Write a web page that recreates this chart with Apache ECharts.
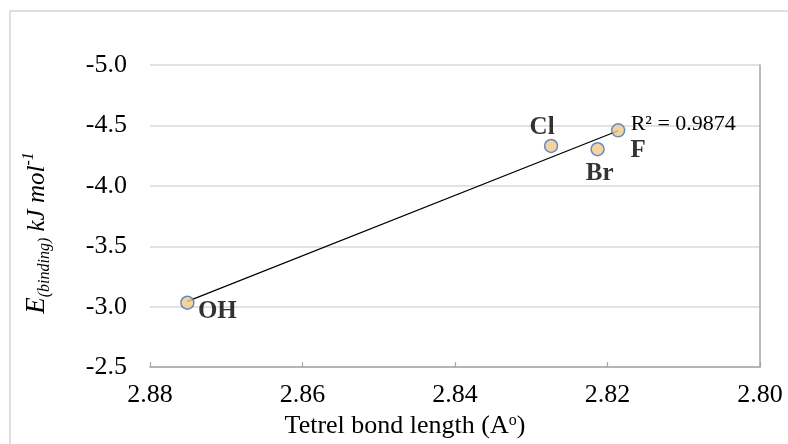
<!DOCTYPE html>
<html>
<head>
<meta charset="utf-8">
<script src="https://cdn.jsdelivr.net/npm/echarts@6/dist/echarts.min.js"></script>
<style>
html,body{margin:0;padding:0;background:#fff;}
#chart{width:788px;height:444px;}
</style>
</head>
<body>
<div id="chart"></div>
<script>
// ---- data ----
const categories = ['OH', 'Cl', 'Br', 'F'];
const bondLength = [2.8751, 2.8274, 2.8213, 2.8186];
const bindingEnergy = [-3.033, -4.330, -4.303, -4.459];
const trendX = [2.8751, 2.8186];
const trendY = [-3.044, -4.456];
const r2Text = 'R\u00B2 = 0.9874';
const xAxisRange = [2.80, 2.88, 0.02];
const yAxisRange = [-5.0, -2.5, 0.5];

// label placement (layout, not data)
const labelOffsets = { OH: [30, 9], Cl: [-9, -18], Br: [2, 24], F: [20, 20] };

const serif = '"Liberation Serif", "Times New Roman", serif';
const axisGray = '#a6a6a6';

const points = categories.map((c, i) => ({
  name: c,
  value: [bondLength[i], bindingEnergy[i]],
  label: { offset: labelOffsets[c] }
}));

const trend = trendX.map((x, i) => {
  const d = { value: [x, trendY[i]] };
  if (i === trendX.length - 1) {
    d.label = { show: true, formatter: r2Text, position: 'right', distance: 12, offset: [0, -7],
      fontFamily: serif, fontSize: 22, color: '#000' };
  }
  return d;
});

const chart = echarts.init(document.getElementById('chart'));
chart.setOption({
  animation: false,
  backgroundColor: '#fff',
  grid: { left: 150, right: 28, top: 65, bottom: 75 },
  graphic: [{
    type: 'rect', silent: true, z: -1,
    shape: { x: 10, y: 11, width: 800, height: 460 },
    style: { fill: 'none', stroke: '#bfbfbf', lineWidth: 1 }
  }],
  xAxis: {
    type: 'value', inverse: true,
    min: xAxisRange[0], max: xAxisRange[1], interval: xAxisRange[2],
    axisLine: { show: true, lineStyle: { color: axisGray, width: 1.5 } },
    axisTick: { show: true, inside: true, length: 5, lineStyle: { color: axisGray, width: 1.2 } },
    splitLine: { show: false },
    axisLabel: { formatter: v => v.toFixed(2), fontFamily: serif, fontSize: 26, color: '#000', margin: 15 },
    name: 'Tetrel bond length (A{sup|o})',
    nameLocation: 'middle', nameGap: 41,
    nameTextStyle: {
      fontFamily: serif, fontSize: 26, color: '#000', padding: [0, 100, 0, 0],
      rich: { sup: { fontFamily: serif, fontSize: 16, color: '#000', verticalAlign: 'top', lineHeight: 16 } }
    }
  },
  yAxis: [{
    type: 'value', inverse: true,
    min: yAxisRange[0], max: yAxisRange[1], interval: yAxisRange[2],
    axisLine: { show: false },
    axisTick: { show: false },
    splitLine: { show: true, lineStyle: { color: '#d9d9d9', width: 1.5 } },
    axisLabel: { formatter: v => v.toFixed(1), fontFamily: serif, fontSize: 26, color: '#000', margin: 23 },
    name: '{e|E}{sub|(binding)}{t| kJ mol}{sup|-1}',
    nameLocation: 'middle', nameGap: 97, nameRotate: 90,
    nameTextStyle: {
      padding: [0, 34, 0, 0],
      rich: {
        e: { fontFamily: serif, fontStyle: 'italic', fontSize: 27, color: '#000', lineHeight: 32 },
        t: { fontFamily: serif, fontStyle: 'italic', fontSize: 25, color: '#000', lineHeight: 32 },
        sub: { fontFamily: serif, fontStyle: 'italic', fontSize: 16, color: '#000', lineHeight: 16, verticalAlign: 'bottom' },
        sup: { fontFamily: serif, fontStyle: 'italic', fontSize: 16, color: '#000', lineHeight: 16, verticalAlign: 'top' }
      }
    }
  }, {
    type: 'value', inverse: true, position: 'right',
    min: yAxisRange[0], max: yAxisRange[1], interval: yAxisRange[2],
    axisLine: { show: true, lineStyle: { color: axisGray, width: 1.5 } },
    axisTick: { show: false }, axisLabel: { show: false }, splitLine: { show: false }
  }],
  series: [{
    type: 'line', data: trend, showSymbol: true, symbol: 'circle', symbolSize: 1,
    itemStyle: { color: 'rgba(0,0,0,0)', borderWidth: 0 },
    lineStyle: { color: '#000', width: 1.2 }, z: 3, silent: true
  }, {
    type: 'scatter', data: points, symbol: 'circle', symbolSize: 13, z: 4,
    itemStyle: { color: '#efc983', borderColor: '#4472c4', borderWidth: 1.5 },
    label: {
      show: true, position: 'inside', formatter: p => p.name,
      fontFamily: serif, fontWeight: 'bold', fontSize: 25, color: '#000'
    }
  }]
});
</script>
</body>
</html>
